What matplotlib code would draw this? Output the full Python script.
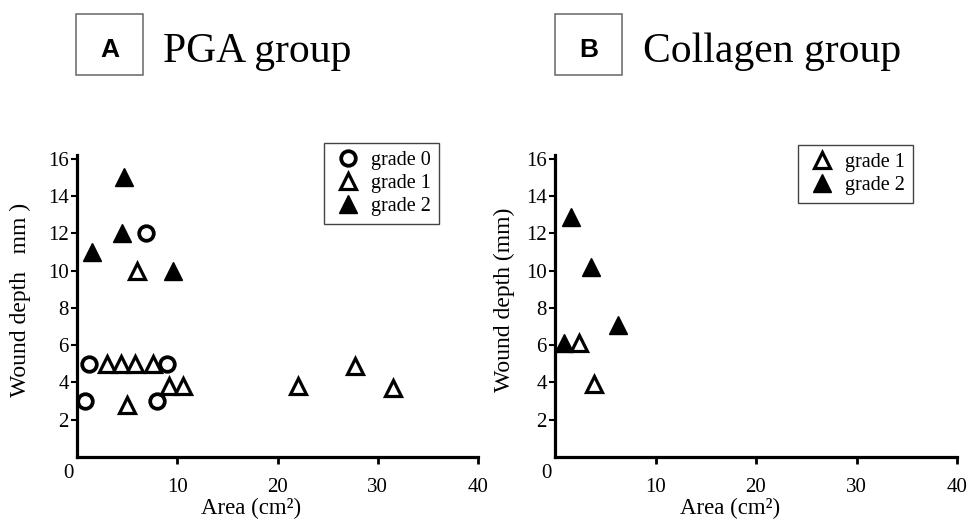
import matplotlib
matplotlib.use("Agg")
import matplotlib.pyplot as plt
from matplotlib.patches import Rectangle

plt.rcParams['font.family'] = ['Liberation Serif', 'DejaVu Serif']

# ── Data ────────────────────────────────────────────────────────────────────
# PGA group
pga_g0_area  = [0.8, 1.2, 6.9, 9.0, 8.0]
pga_g0_depth = [3.0, 5.0, 12.0, 5.0, 3.0]
pga_g1_area  = [3.0, 4.4, 5.8, 7.6, 6.0, 5.0, 9.2, 10.6, 22.0, 27.7, 31.5]
pga_g1_depth = [5.0, 5.0, 5.0, 5.0, 10.0, 2.8, 3.8, 3.8, 3.8, 4.9, 3.7]
pga_g2_area  = [4.7, 4.5, 1.5, 9.6]
pga_g2_depth = [15.0, 12.0, 11.0, 10.0]

# Collagen group
col_g1_area  = [2.4, 3.9]
col_g1_depth = [6.1, 3.9]
col_g2_area  = [0.9, 1.6, 3.6, 6.3]
col_g2_depth = [6.1, 12.9, 10.2, 7.1]

x_ticks = [10, 20, 30, 40]
y_ticks = [2, 4, 6, 8, 10, 12, 14, 16]

W, H = 969, 519
fig = plt.figure(figsize=(W / 100, H / 100), dpi=100)

open_tri   = dict(marker='^', ms=12, mfc='white', mec='black', mew=2.3, ls='none')
filled_tri = dict(marker='^', ms=13, mfc='black', mec='black', mew=1, ls='none')
open_circ  = dict(marker='o', ms=10.5, mfc='white', mec='black', mew=2.7, ls='none')


def style_axes(ax, ylabel, label_x):
    ax.set_xlim(0, 40)
    ax.set_ylim(0, 16.2)
    for s in ['top', 'right']:
        ax.spines[s].set_visible(False)
    for s in ['left', 'bottom']:
        ax.spines[s].set_linewidth(2.3)
    ax.set_xticks(x_ticks)
    ax.set_yticks(y_ticks)
    ax.tick_params(axis='x', direction='out', length=5, width=2, pad=10, labelsize=15)
    ax.tick_params(axis='y', direction='out', length=4, width=1.5, pad=2, labelsize=15)
    ax.annotate('0', xy=(0, 0), xytext=(-6.5, -12), textcoords='offset points',
                ha='center', va='center', fontsize=15, annotation_clip=False)
    ax.set_xlabel('Area (cm²)', fontsize=16.5, va='center')
    ax.xaxis.set_label_coords(0.435, -0.172)
    ax.set_ylabel(ylabel, fontsize=17, va='center')
    ax.yaxis.set_label_coords(label_x, 0.52)


leg_kw = dict(loc='upper right', fontsize=14.5, fancybox=False, framealpha=1,
              edgecolor='#444444', handletextpad=0.35, borderpad=0.4,
              labelspacing=0.2, handlelength=1.6, borderaxespad=0)

# ── Panel A ──
axA = fig.add_axes([77 / W, 1 - 457 / H, 401 / W, 302 / H])
axA.plot(pga_g0_area, pga_g0_depth, label='grade 0', **open_circ)
axA.plot(pga_g1_area, pga_g1_depth, label='grade 1', **open_tri)
axA.plot(pga_g2_area, pga_g2_depth, label='grade 2', **filled_tri)
style_axes(axA, 'Wound depth   mm )', -0.14)
axA.legend(bbox_to_anchor=(0.903, 1.04), **leg_kw)

# ── Panel B ──
axB = fig.add_axes([555 / W, 1 - 457 / H, 402 / W, 302 / H])
axB.plot(col_g1_area, col_g1_depth, label='grade 1', **open_tri)
axB.plot(col_g2_area, col_g2_depth, label='grade 2', **filled_tri)
style_axes(axB, 'Wound depth (mm)', -0.125)
axB.legend(bbox_to_anchor=(0.891, 1.033), **leg_kw)

# ── Panel headers ──
for (bx, tx, letter, title) in [(76, 163, 'A', 'PGA group'), (555, 643, 'B', 'Collagen group')]:
    fig.patches.append(Rectangle((bx / W, 1 - 74.5 / H), 67 / W, 61 / H,
                                 transform=fig.transFigure, fill=False,
                                 edgecolor='#666666', lw=1.1))
    fig.text((bx + 34) / W, 1 - 57 / H, letter, ha='center', va='baseline',
             fontsize=19, fontweight='bold', family=['Liberation Sans', 'DejaVu Sans'])
    fig.text(tx / W, 1 - 62 / H, title, ha='left', va='baseline', fontsize=30)

fig.savefig('out.png', dpi=100)
